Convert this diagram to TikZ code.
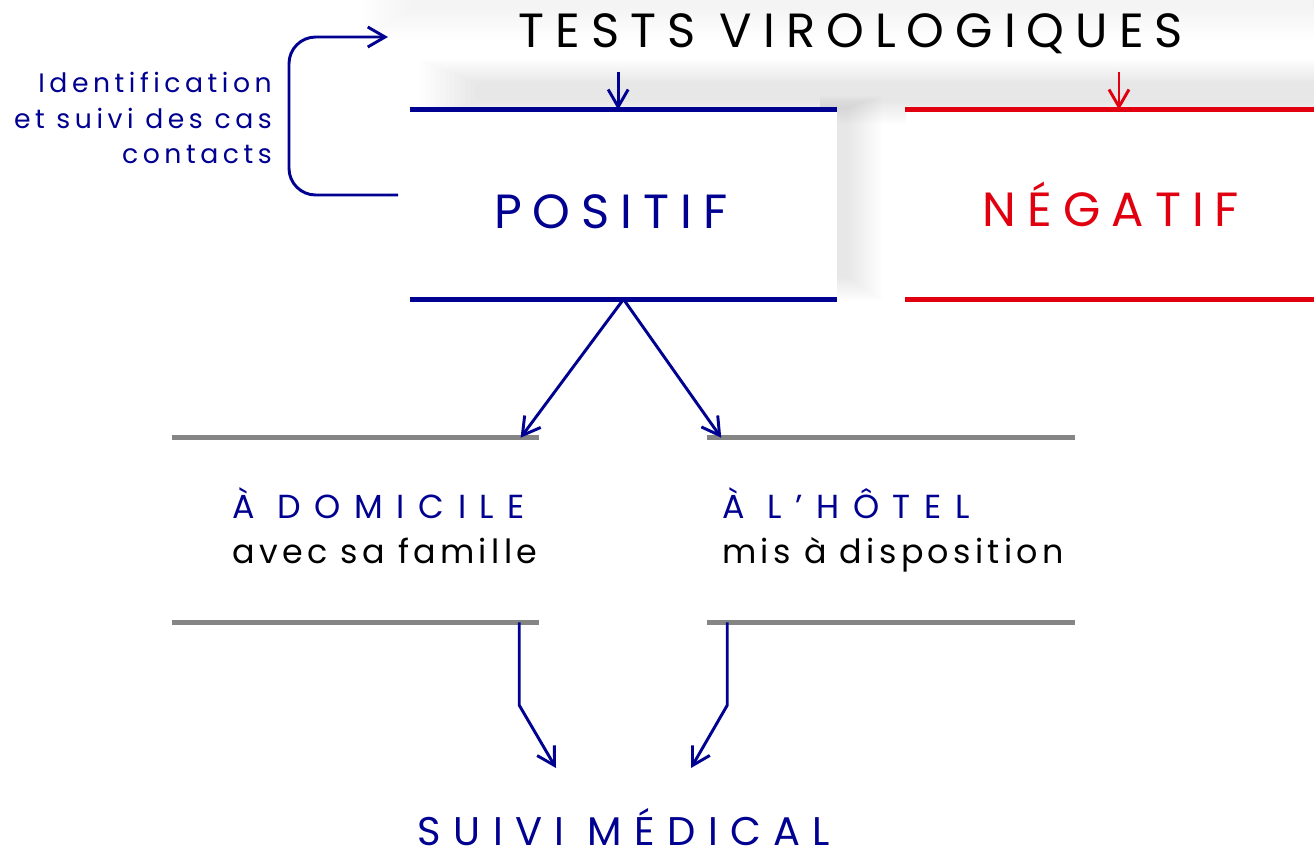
\documentclass[tikz,border=0pt]{standalone}
\usepackage{fontspec}
\setmainfont{Poppins}
\usetikzlibrary{arrows.meta}
\definecolor{bleu}{HTML}{000091}
\definecolor{rouge}{HTML}{E1000F}
\definecolor{gris}{HTML}{858585}
\tikzset{
  fleche/.style={line width=2.2pt,-{Straight Barb[length=13pt,width=15pt]}},
  bord/.style={line width=4pt},
  ombre/.style={black,opacity=#1},
  boite/.style={fill=white,minimum width=320.25pt,minimum height=141.75pt,inner sep=0pt},
  boitegris/.style={minimum width=275.25pt,minimum height=138pt,inner sep=0pt},
  grand/.style={inner sep=0pt,anchor=base,font=\fontsize{36}{40}\selectfont\addfontfeatures{LetterSpace=23}},
  titreg/.style={inner sep=0pt,anchor=base west,text=bleu,font=\fontsize{25}{30}\selectfont\addfontfeatures{LetterSpace=41}},
  sousg/.style={inner sep=0pt,anchor=base west,font=\fontsize{25}{30}\selectfont\addfontfeatures{LetterSpace=13}},
  petit/.style={inner sep=0pt,anchor=base east,text=bleu,font=\fontsize{20}{24}\selectfont\addfontfeatures{LetterSpace=17}}
}
\begin{document}
\begin{tikzpicture}[x=0.75pt,y=-0.75pt]
            \useasboundingbox (0,0) rectangle (1314,854);
            \foreach \i in {1,...,12}{
              \fill[ombre=0.0035] (420-\i*5,-20) rectangle (1340,4+\i*3);
              \fill[ombre=0.008] (480-\i*5,84-\i*2) rectangle (1340,100+\i*2);
              \fill[ombre=0.006] (820,108-\i) rectangle (846+\i*3,276+\i*2);
            }
            \node[boite] (pos) at (623.5,204.5) {};
            \node[boite] (neg) at (1119,204.5) {};
            \node[grand] (tests) at (851,47) {TESTS VIROLOGIQUES};
            \node[grand,text=bleu] (postxt) at (611,228) {POSITIF};
            \node[grand,text=rouge] (negtxt) at (1111,226) {NÉGATIF};
            \draw[bord,bleu] (pos.north west)--(pos.north east);
            \draw[bord,bleu] (pos.south west)--(pos.south east);
            \draw[bord,rouge] (neg.north west)--(neg.north east);
            \draw[bord,rouge] (neg.south west)--(neg.south east);
            \draw[fleche,bleu] ([xshift=-4pt,yshift=28.5pt]pos.north)--([xshift=-4pt]pos.north);
            \draw[fleche,rouge] ([yshift=28.5pt]neg.north)--(neg.north);
            \coordinate (boucle) at (398,195);
            \draw[fleche,bleu,rounded corners=20pt] (boucle)--(289,195)--(289,37)--(388,37);
            \node[petit] (cas1) at (272,92) {Identification};
            \node[petit] (cas2) at (272,128) {et suivi des cas};
            \node[petit] (cas3) at (272,163) {contacts};
            \node[boitegris] (dom) at (355.5,530) {};
            \node[boitegris] (hot) at (891,530) {};
            \foreach \b in {dom,hot}{
              \draw[bord,gris] (\b.north west)--(\b.north east);
              \draw[bord,gris] (\b.south west)--(\b.south east);
            }
            \node[titreg] (domtitre) at (232,518) {À DOMICILE};
            \node[sousg] (domsous) at (232,563) {avec sa famille};
            \node[titreg] (hottitre) at (722,518) {À L’HÔTEL};
            \node[sousg] (hotsous) at (722,563) {mis à disposition};
            \draw[fleche,bleu] (pos.south)--([xshift=-14pt]dom.north east);
            \draw[fleche,bleu] (pos.south)--([xshift=10.5pt]hot.north west);
            \node[grand,text=bleu,text depth=0pt,font=\fontsize{30}{36}\selectfont\addfontfeatures{LetterSpace=31}] (suivi) at (624,845) {SUIVI MÉDICAL};
            \coordinate (finG) at (556,768);
            \coordinate (finD) at (691,768);
            \draw[fleche,bleu] ([xshift=-15pt]dom.south east)--++(0,83)--(finG);
            \draw[fleche,bleu] ([xshift=15pt]hot.south west)--++(0,83)--(finD);
        \end{tikzpicture}
\end{document}
